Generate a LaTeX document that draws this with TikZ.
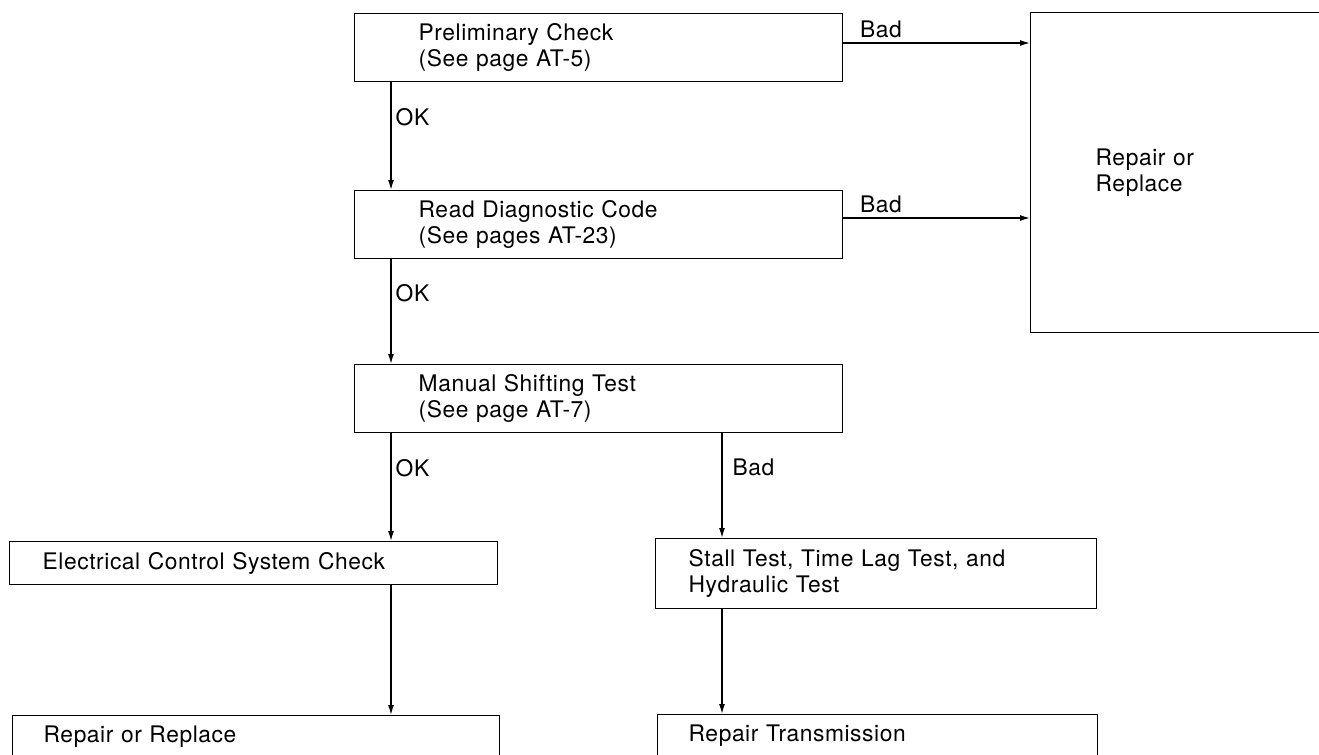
\documentclass[tikz,border=0pt]{standalone}
\usepackage{fontspec}
\setmainfont{TeX Gyre Heros}[LetterSpace=2.5]
\usetikzlibrary{arrows.meta}

\begin{document}
\begin{tikzpicture}[x=0.5pt, y=-0.5pt, >={Latex[length=5pt,width=3pt]},
    line width=0.7pt,
    stepbox/.style={draw, anchor=north west, align=left, inner ysep=0pt,
        font=\fontsize{11.4}{13}\selectfont},
    lbl/.style={font=\fontsize{11.4}{13}\selectfont, inner sep=2pt}]

    \clip[use as bounding box] (0,0) rectangle (1319,755);

    % 1. Các hộp
    \node[stepbox, text width=180pt, inner xsep=32pt, minimum height=34pt]
        (prelim) at (354,13) {Preliminary Check\\(See page AT-5)};
    \node[stepbox, text width=180pt, inner xsep=32pt, minimum height=34pt]
        (diag) at (354,190) {Read Diagnostic Code\\(See pages AT-23)};
    \node[stepbox, text width=180pt, inner xsep=32pt, minimum height=34pt]
        (manual) at (354,364) {Manual Shifting Test\\(See page AT-7)};
    \node[stepbox, text width=92.5pt, inner xsep=32.5pt, minimum height=160pt]
        (big) at (1030,12) {Repair or\\Replace};
    \node[stepbox, text width=211pt, inner xsep=16.5pt, minimum height=21.5pt]
        (elec) at (9,541) {Electrical Control System Check};
    \node[stepbox, text width=187.5pt, inner xsep=16.5pt, minimum height=35pt]
        (stall) at (655,538) {Stall Test, Time Lag Test, and\\Hydraulic Test};
    \node[stepbox, text width=212.5pt, inner xsep=15.5pt, minimum height=21pt]
        (repL) at (12,715) {Repair or Replace};
    \node[stepbox, text width=189pt, inner xsep=15.5pt, minimum height=21pt]
        (repT) at (657,714) {Repair Transmission};

    % 2. Cột và hàng của các mũi tên
    \coordinate (colA) at (391,0);
    \coordinate (colB) at (722,0);
    \coordinate (badA) at (0,43);
    \coordinate (badB) at (0,218);

    % 3. Nhánh OK
    \draw[->] (prelim.south -| colA) -- node[lbl, right, pos=0.32] {OK} (diag.north -| colA);
    \draw[->] (diag.south -| colA) -- node[lbl, right, pos=0.32] {OK} (manual.north -| colA);
    \draw[->] (manual.south -| colA) -- node[lbl, right, pos=0.32] {OK} (elec.north -| colA);
    \draw[->] (elec.south -| colA) -- (repL.north -| colA);

    % 4. Nhánh Bad
    \draw[->] (manual.south -| colB) -- node[lbl, right, pos=0.32, xshift=3pt] {Bad} (stall.north -| colB);
    \draw[->] (stall.south -| colB) -- (repT.north -| colB);
    \draw[->] (prelim.east |- badA) -- node[lbl, pos=0, above right, xshift=6pt] {Bad} (big.west |- badA);
    \draw[->] (diag.east |- badB) -- node[lbl, pos=0, above right, xshift=6pt] {Bad} (big.west |- badB);
\end{tikzpicture}
\end{document}
